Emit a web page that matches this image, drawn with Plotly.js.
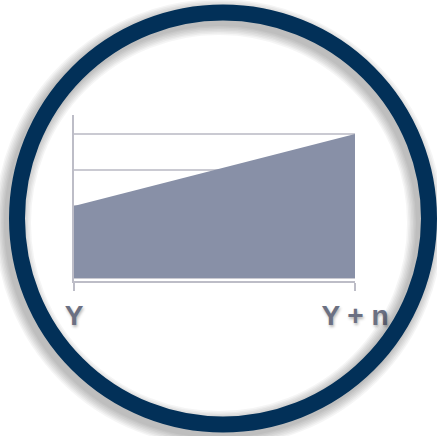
<!DOCTYPE html>
<html>
<head>
<meta charset="utf-8">
<script src="https://cdn.plot.ly/plotly-3.0.1.min.js"></script>
<style>
html,body{margin:0;padding:0;background:#fff;}
#chart{width:437px;height:436px;}
</style>
</head>
<body>
<div id="chart"></div>
<script>
// Data
const categories = ['Y', 'Y + n'];
const values = [2, 4];
const gridValues = [0, 1, 2, 3, 4];

const W = 437, H = 436;
function circ(cx, cy, r, width, color) {
  return {
    type: 'circle', xref: 'paper', yref: 'paper',
    x0: (cx - r) / W, x1: (cx + r) / W,
    y0: 1 - (cy + r) / H, y1: 1 - (cy - r) / H,
    line: {color: color, width: width},
    fillcolor: 'rgba(0,0,0,0)', layer: 'above'
  };
}
const shapes = [];
const sx = 219, sy = 223;
[36, 33, 30, 27, 24, 21, 18].forEach(w => shapes.push(circ(sx, sy, 206, w, 'rgba(0,0,0,0.04)')));
shapes.push(circ(223, 218.5, 206, 16, '#023058'));

const trace = {
  type: 'scatter', mode: 'lines',
  x: categories, y: values,
  fill: 'tozeroy', fillcolor: '#8890a7',
  line: {width: 0, color: '#8890a7'},
  hoverinfo: 'skip', showlegend: false
};

const axisGray = '#bdbdc7';
const layout = {
  width: W, height: H,
  margin: {l: 0, r: 0, t: 0, b: 0},
  paper_bgcolor: '#ffffff', plot_bgcolor: '#ffffff',
  showlegend: false,
  xaxis: {
    type: 'category',
    domain: [74 / W, 355 / W],
    range: [0, 1],
    showgrid: false, zeroline: false,
    showline: true, linecolor: axisGray, linewidth: 2.5,
    ticks: 'outside', ticklen: 8, tickwidth: 2, tickcolor: axisGray,
    tickfont: {family: '"Liberation Sans", Arial, sans-serif', size: 28, weight: 'bold', color: '#6b7082', shadow: '1px 2px 3px rgba(0,0,0,0.3)'},
    fixedrange: true
  },
  yaxis: {
    domain: [1 - 280.5 / H, 1 - 115 / H],
    range: [-0.07, 4.53],
    tickvals: gridValues,
    showticklabels: false,
    ticks: '',
    showgrid: true, gridcolor: '#cacad2', gridwidth: 2,
    zeroline: false,
    showline: true, linecolor: axisGray, linewidth: 2.5,
    fixedrange: true
  },
  shapes: shapes
};

Plotly.newPlot('chart', [trace], layout, {displayModeBar: false, staticPlot: true});
</script>
</body>
</html>
